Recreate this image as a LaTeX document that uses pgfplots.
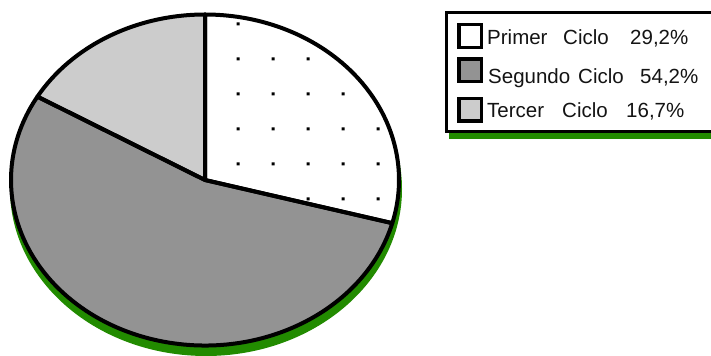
\documentclass[border=0pt]{standalone}
\usepackage{fontspec}
\setmainfont{Liberation Sans}
\usepackage{pgfplots}
\usepackage{pgfplotstable}
\pgfplotsset{compat=1.18}
\usetikzlibrary{patterns.meta}

\definecolor{shadowgreen}{RGB}{34,139,0}
\definecolor{segcol}{RGB}{147,147,147}
\definecolor{tercol}{RGB}{204,204,204}
\definecolor{txtcol}{RGB}{20,20,20}

\pgfdeclarepattern{
  name=piedots,
  type=uncolored,
  bottom left={\pgfpoint{0bp}{0bp}},
  top right={\pgfpoint{35bp}{35bp}},
  tile size={\pgfpoint{35bp}{35bp}},
  tile transformation={\pgftransformshift{\pgfpoint{11.5bp}{0.5bp}}},
  code={\pgfpathrectangle{\pgfpoint{15.9bp}{15.9bp}}{\pgfpoint{3.2bp}{3.2bp}}\pgfusepath{fill}}
}

\pgfplotstableread{
label value
Primer 29.2
Segundo 54.2
Tercer 16.7
}\piedata

\begin{document}
\begin{tikzpicture}
\pgfplotstablegetelem{0}{value}\of\piedata \edef\va{\pgfplotsretval}
\pgfplotstablegetelem{1}{value}\of\piedata \edef\vb{\pgfplotsretval}
\pgfplotstablegetelem{2}{value}\of\piedata \edef\vc{\pgfplotsretval}
\pgfmathsetmacro\aA{90}
\pgfmathsetmacro\aB{\aA-3.6*\va}
\pgfmathsetmacro\aC{\aB-3.6*\vb}
\pgfmathsetmacro\aD{\aA-360}
\begin{axis}[
  at={(0,0)}, anchor=south west,
  width=711bp, height=356bp, scale only axis,
  xmin=0, xmax=711, ymin=0, ymax=356,
  hide axis, clip=false]
  % 3D shadow
  \fill[shadowgreen] (axis cs:206,167) ellipse [x radius=196bp, y radius=167bp];
  % Primer Ciclo
  \fill[white] (axis cs:205,176) -- ++(\aA:194bp and 165.5bp) arc[start angle=\aA, end angle=\aB, x radius=194bp, y radius=165.5bp] -- cycle;
  \fill[pattern=piedots, pattern color=black] (axis cs:205,176) -- ++(\aA:194bp and 165.5bp) arc[start angle=\aA, end angle=\aB, x radius=194bp, y radius=165.5bp] -- cycle;
  % Segundo Ciclo
  \fill[segcol] (axis cs:205,176) -- ++(\aB:194bp and 165.5bp) arc[start angle=\aB, end angle=\aC, x radius=194bp, y radius=165.5bp] -- cycle;
  % Tercer Ciclo
  \fill[tercol] (axis cs:205,176) -- ++(\aC:194bp and 165.5bp) arc[start angle=\aC, end angle=\aD, x radius=194bp, y radius=165.5bp] -- cycle;
  % outlines
  \draw[line width=4bp, line join=round] (axis cs:205,176) -- ++(\aA:194bp and 165.5bp) arc[start angle=\aA, end angle=\aB, x radius=194bp, y radius=165.5bp] -- cycle;
  \draw[line width=4bp, line join=round] (axis cs:205,176) -- ++(\aB:194bp and 165.5bp) arc[start angle=\aB, end angle=\aC, x radius=194bp, y radius=165.5bp] -- cycle;
  \draw[line width=4bp, line join=round] (axis cs:205,176) -- ++(\aC:194bp and 165.5bp) arc[start angle=\aC, end angle=\aD, x radius=194bp, y radius=165.5bp] -- cycle;
  % legend
  \fill[shadowgreen] (axis cs:449,217) rectangle (axis cs:730,340);
  \filldraw[fill=white, line width=3.5bp] (axis cs:446.5,343.5) rectangle (axis cs:725,224.5);
  \filldraw[fill=white, line width=3.5bp] (axis cs:459,331.5) rectangle (axis cs:481.5,308.5);
  \filldraw[fill=segcol, line width=3.5bp] (axis cs:459,297) rectangle (axis cs:481.5,274.5);
  \filldraw[fill=tercol, line width=3.5bp] (axis cs:459,257.5) rectangle (axis cs:481.5,235);
  \begin{scope}[every node/.style={anchor=base west, inner sep=0pt, text=txtcol, font=\fontsize{20.5bp}{24bp}\selectfont}]
    \node at (axis cs:487,311) {Primer};
    \node at (axis cs:563,311) {Ciclo};
    \node at (axis cs:630,311) {29,2\%};
    \node at (axis cs:488,272) {Segundo};
    \node at (axis cs:578,272) {Ciclo};
    \node at (axis cs:640,272) {54,2\%};
    \node at (axis cs:487,238) {Tercer};
    \node at (axis cs:562,238) {Ciclo};
    \node at (axis cs:626,238) {16,7\%};
  \end{scope}
\end{axis}
\pgfresetboundingbox
\useasboundingbox (0,0) rectangle (711bp,356bp);
\end{tikzpicture}
\end{document}
